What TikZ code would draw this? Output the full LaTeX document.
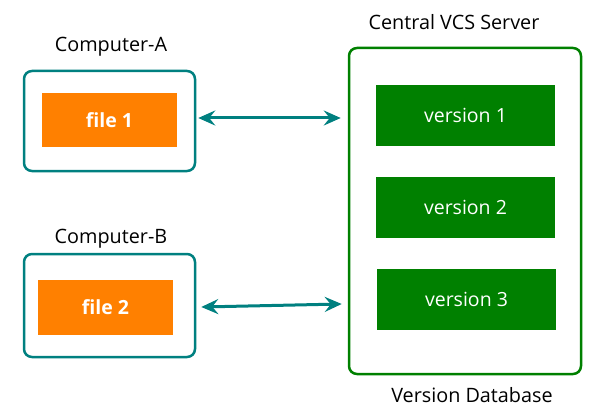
\documentclass[tikz,border=0pt]{standalone}
\usepackage{fontspec}
\setmainfont{Open Sans}
\usepackage{tikz}
\usetikzlibrary{positioning,arrows.meta}
\definecolor{vcsteal}{RGB}{0,128,128}
\definecolor{vcsorange}{RGB}{255,128,0}
\definecolor{vcsgreen}{RGB}{0,128,0}

\begin{document}
\begin{tikzpicture}[
  x=1pt, y=-1pt,
  >=Stealth,
  host/.style={draw=vcsteal, line width=2.5pt, rounded corners=8pt, minimum width=171pt, minimum height=100pt},
  server/.style={draw=vcsgreen, line width=2.5pt, rounded corners=8pt, minimum width=232pt, minimum height=326pt},
  filebox/.style={fill=vcsorange, text=white, minimum width=135pt, minimum height=54pt, font=\fontsize{19.5}{22}\selectfont\bfseries},
  verbox/.style={fill=vcsgreen, text=white, minimum width=179pt, minimum height=61pt, font=\fontsize{19.5}{22}\selectfont},
  caption/.style={font=\fontsize{19.8}{22}\selectfont},
  link/.style={draw=vcsteal, line width=3pt, {Stealth[length=17pt,width=15pt,inset=6pt]}-{Stealth[length=17pt,width=15pt,inset=6pt]}},
]
\useasboundingbox (0,0) rectangle (605,417);
\node[host] (compA) at (109.5,121) {};
\node[filebox] (file1) at (109.5,120) {file 1};
\node[caption] (labA) at (111,47) {Computer-A};
\node[host, minimum height=103pt] (compB) at (109.5,305.5) {};
\node[filebox, minimum height=55pt] (file2) at (105.5,307.5) {file 2};
\node[caption] (labB) at (111,239) {Computer-B};
\node[server] (srv) at (465,211) {};
\node[verbox] (v1) at (465.5,115.5) {version 1};
\node[verbox] (v2) at (465.5,207.5) {version 2};
\node[verbox] (v3) at (466.5,299.5) {version 3};
\node[caption] (labS) at (454,22) {Central VCS Server};
\node[caption] (labD) at (472,395) {Version Database};
\draw[link] ([xshift=2pt,yshift=3pt]compA.east) -- ([xshift=-7pt,yshift=3pt]srv.west |- compA.east);
\draw[link] ([xshift=5pt,yshift=-1.5pt]compB.east) -- ([xshift=-6pt,yshift=1.5pt]srv.west |- compB.east);
\end{tikzpicture}
\end{document}
